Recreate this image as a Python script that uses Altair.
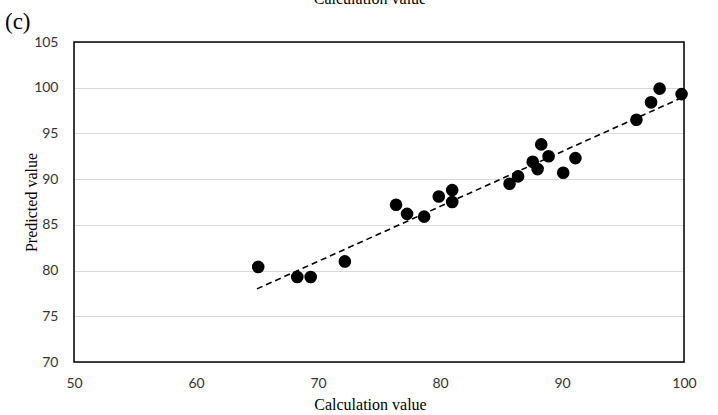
import altair as alt
import pandas as pd

calc = [65.1, 68.3, 69.4, 72.2, 76.4, 77.3, 78.7, 79.9, 81.0, 81.0,
        85.7, 86.4, 87.6, 88.0, 88.3, 88.9, 90.1, 91.1, 96.1, 97.3, 98.0, 99.8]
pred = [80.4, 79.3, 79.3, 81.0, 87.2, 86.2, 85.9, 88.1, 87.5, 88.8,
        89.5, 90.3, 91.9, 91.1, 93.8, 92.5, 90.7, 92.3, 96.5, 98.4, 99.9, 99.3]
trend_x = [65.0, 99.8]
trend_y = [78.0, 98.9]
x_ticks = [50, 60, 70, 80, 90, 100]
y_ticks = [70, 75, 80, 85, 90, 95, 100, 105]

pts = pd.DataFrame({"calc": calc, "pred": pred})
trend = pd.DataFrame({"calc": trend_x, "pred": trend_y})

W, H = 610, 320
serif = "Liberation Serif"
sans = "Lato"

xs = alt.Scale(domain=[50, 100], nice=False, zero=False)
ys = alt.Scale(domain=[70, 105], nice=False, zero=False)

xax = alt.Axis(values=x_ticks, grid=False, domain=False, ticks=False,
               labelFont=sans, labelFontSize=14, labelColor="#333",
               labelPadding=14, labelFlush=False, title="Calculation value",
               titleFont=serif, titleFontSize=16, titleFontWeight="normal",
               titleColor="#000", titlePadding=6, titleX=296)
yax = alt.Axis(values=y_ticks, grid=True, gridColor="#d9d9d9", gridWidth=1.2,
               domain=False, ticks=False, labelFont=sans, labelFontSize=14,
               labelColor="#333", labelPadding=16, labelFlush=False,
               title="Predicted value", titleFont=serif, titleFontSize=16,
               titleFontWeight="normal", titleColor="#000", titleX=-43,
               titleY=H / 2, titleAlign="center", titleBaseline="middle")

points = alt.Chart(pts).mark_circle(size=160, color="#000", opacity=1).encode(
    x=alt.X("calc:Q", scale=xs, axis=xax),
    y=alt.Y("pred:Q", scale=ys, axis=yax),
)

line = alt.Chart(trend).mark_line(color="#000", strokeDash=[6, 4], strokeWidth=1.6).encode(
    x=alt.X("calc:Q", scale=xs),
    y=alt.Y("pred:Q", scale=ys),
)

frame = alt.Chart(pd.DataFrame({"t": [0]})).mark_rect(
    fill=None, fillOpacity=0, stroke="#000", strokeWidth=1.5
).encode(x=alt.value(0), x2=alt.value(W), y=alt.value(0), y2=alt.value(H))

label_c = alt.Chart(pd.DataFrame({"t": ["(c)"]})).mark_text(
    font=serif, fontSize=23, align="left", baseline="alphabetic", color="#000"
).encode(text="t:N", x=alt.value(-69), y=alt.value(-13))

top_cut = alt.Chart(pd.DataFrame({"t": ["Calculation value"]})).mark_text(
    font=serif, fontSize=16, align="center", baseline="alphabetic", color="#000"
).encode(text="t:N", x=alt.value(296), y=alt.value(-38))

chart = alt.layer(line, points, frame, label_c, top_cut).properties(
    width=W, height=H,
    autosize=alt.AutoSizeParams(type="none"),
    padding={"left": 74, "top": 42, "right": 34, "bottom": 53},
).configure_view(stroke=None).configure(background="white")

chart.save("out.html", embed_options={"renderer": "svg", "actions": False})
